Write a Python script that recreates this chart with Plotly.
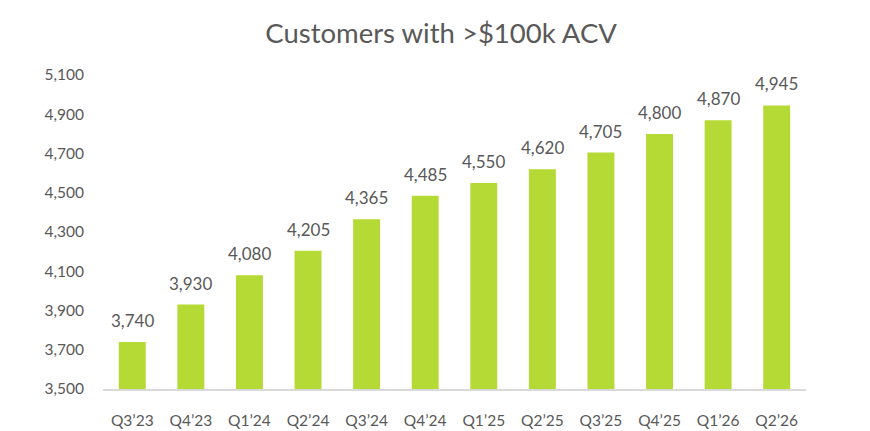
import plotly.graph_objects as go

# Customers with >$100k ACV, by quarter
quarters = ["Q3\u201923", "Q4\u201923", "Q1\u201924", "Q2\u201924", "Q3\u201924", "Q4\u201924",
            "Q1\u201925", "Q2\u201925", "Q3\u201925", "Q4\u201925", "Q1\u201926", "Q2\u201926"]
customers = [3740, 3930, 4080, 4205, 4365, 4485, 4550, 4620, 4705, 4800, 4870, 4945]
y_ticks = [3500, 3700, 3900, 4100, 4300, 4500, 4700, 4900, 5100]

font_name = "Lato"
grey = "#595959"

fig = go.Figure(
    go.Bar(
        x=quarters,
        y=customers,
        marker=dict(color="#B5D935", line=dict(width=0)),
        hoverinfo="x+y",
    )
)

# value labels sit a little above each bar
for q, v in zip(quarters, customers):
    fig.add_annotation(
        x=q, y=v, text=f"{v:,}",
        showarrow=False, yanchor="bottom", yshift=9,
        font=dict(family=font_name, size=17, color=grey),
    )

fig.update_layout(
    width=870,
    height=431,
    margin=dict(l=103, r=64, t=75, b=42),
    paper_bgcolor="white",
    plot_bgcolor="white",
    bargap=0.54,
    showlegend=False,
    title=dict(
        text="Customers with >$100k ACV",
        x=0.507,
        xanchor="center",
        y=0.923,
        yanchor="middle",
        font=dict(family=font_name, size=27.5, color=grey),
    ),
    font=dict(family=font_name, size=15, color=grey),
)

fig.update_xaxes(
    automargin=False,
    showline=True,
    linecolor="#D9D9D9",
    linewidth=1.5,
    ticks="",
    showgrid=False,
    tickfont=dict(family=font_name, size=15.5, color=grey),
    ticklabelstandoff=17,
)
fig.update_yaxes(
    automargin=False,
    range=[3500, 5100],
    tickvals=y_ticks,
    ticktext=[f"{v:,}" for v in y_ticks],
    showgrid=False,
    zeroline=False,
    showline=False,
    ticks="",
    tickfont=dict(family=font_name, size=15.5, color=grey),
    ticklabelstandoff=18,
)

# drop the default 8px page margin so the figure fills the window exactly
fig.write_html("out.html", config={"displayModeBar": False},
               post_script="document.body.style.margin = '0';")
